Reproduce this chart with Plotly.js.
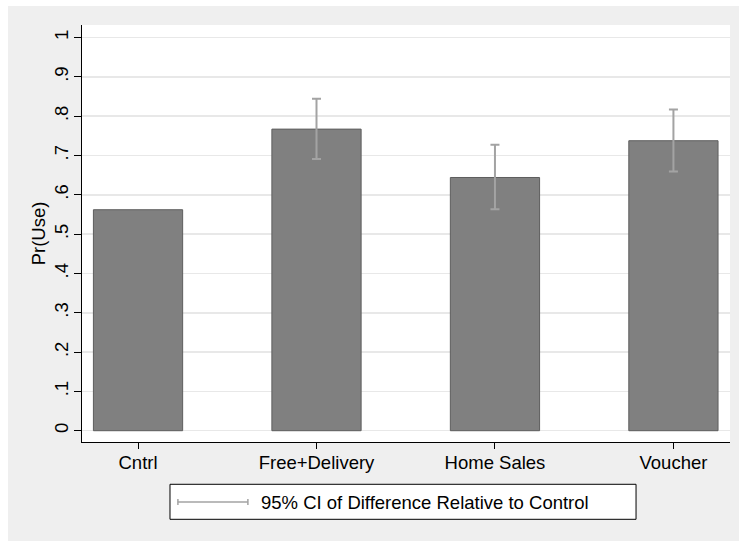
<!DOCTYPE html>
<html>
<head>
<meta charset="utf-8">
<script src="https://cdn.plot.ly/plotly-3.0.1.min.js"></script>
<style>html,body{margin:0;padding:0;background:#fff;}#chart{width:739px;height:541px;}</style>
</head>
<body>
<div id="chart"></div>
<script>
const categories = ['Cntrl', 'Free+Delivery', 'Home Sales', 'Voucher'];
const meanUse = [0.562, 0.767, 0.644, 0.7375];
const ciLow = [null, 0.691, 0.563, 0.659];
const ciHigh = [null, 0.844, 0.727, 0.817];
const yTickVals = [0, 0.1, 0.2, 0.3, 0.4, 0.5, 0.6, 0.7, 0.8, 0.9, 1];
const yTickText = ['0', '.1', '.2', '.3', '.4', '.5', '.6', '.7', '.8', '.9', '1'];
const legendLabel = '95% CI of Difference Relative to Control';

const ciCats = [], ciMid = [], ciPlus = [], ciMinus = [];
categories.forEach((c, i) => {
  if (ciLow[i] !== null && ciHigh[i] !== null) {
    ciCats.push(c);
    ciMid.push(meanUse[i]);
    ciPlus.push(ciHigh[i] - meanUse[i]);
    ciMinus.push(meanUse[i] - ciLow[i]);
  }
});

const FONT = 'Liberation Sans, Arial, Helvetica, sans-serif';
const FS = 18.5;

const traces = [
  {
    type: 'bar',
    x: categories,
    y: meanUse,
    width: 0.5,
    marker: {color: '#808080', line: {color: '#5e5e5e', width: 1}},
    showlegend: false,
    hoverinfo: 'x+y'
  },
  {
    type: 'scatter',
    mode: 'markers',
    x: ciCats,
    y: ciMid,
    marker: {size: 1, color: 'rgba(0,0,0,0)'},
    error_y: {type: 'data', symmetric: false, array: ciPlus, arrayminus: ciMinus,
              color: '#a3a3a3', thickness: 2, width: 4.5},
    showlegend: false,
    name: legendLabel
  }
];

const layout = {
  width: 739, height: 541,
  margin: {l: 82, r: 9, t: 25, b: 99},
  paper_bgcolor: '#ffffff',
  plot_bgcolor: '#ffffff',
  font: {family: FONT, size: FS, color: '#000'},
  showlegend: false,
  xaxis: {
    type: 'category',
    range: [-0.314, 3.317],
    showline: true, linecolor: '#000', linewidth: 1,
    ticks: 'outside', ticklen: 6, tickcolor: '#000', tickwidth: 1,
    showgrid: false, zeroline: false,
    ticklabelstandoff: -2,
    tickfont: {family: FONT, size: FS, color: '#000'}
  },
  yaxis: {
    range: [-0.0287, 1.0318],
    tickvals: yTickVals, ticktext: yTickText,
    tickangle: -90,
    showline: true, linecolor: '#000', linewidth: 1,
    ticks: 'outside', ticklen: 7, tickcolor: '#000', tickwidth: 1,
    showgrid: true, gridcolor: '#e8e8e8', gridwidth: 1.5,
    zeroline: false,
    ticklabelstandoff: -1,
    tickfont: {family: FONT, size: FS, color: '#000'},
    title: {text: 'Pr(Use)', font: {family: FONT, size: FS, color: '#000'}, standoff: 0}
  },
  shapes: [
    {type: 'rect', xref: 'paper', yref: 'paper', x0: -0.1142, x1: 1.02, y0: -0.25, y1: 1.0456,
     fillcolor: '#efefef', line: {width: 0}, layer: 'below'},
    {type: 'rect', xref: 'paper', yref: 'paper', x0: 0, x1: 1, y0: 0, y1: 1,
     fillcolor: '#ffffff', line: {width: 0}, layer: 'below'},
    {type: 'rect', xref: 'paper', yref: 'paper', x0: 0.1358, x1: 0.855, y0: -0.1854, y1: -0.1014,
     fillcolor: '#ffffff', line: {color: '#000', width: 1}},
    {type: 'line', xref: 'paper', yref: 'paper', x0: 0.148, x1: 0.256, y0: -0.1439, y1: -0.1439,
     line: {color: '#a3a3a3', width: 1.5}},
    {type: 'line', xref: 'paper', yref: 'paper', x0: 0.148, x1: 0.148, y0: -0.1511, y1: -0.1367,
     line: {color: '#a3a3a3', width: 1.5}},
    {type: 'line', xref: 'paper', yref: 'paper', x0: 0.256, x1: 0.256, y0: -0.1511, y1: -0.1367,
     line: {color: '#a3a3a3', width: 1.5}}
  ],
  annotations: [
    {xref: 'paper', yref: 'paper', x: 0.273, y: -0.1439, xanchor: 'left', yanchor: 'middle',
     text: legendLabel, showarrow: false, font: {family: FONT, size: FS, color: '#000'}}
  ]
};

Plotly.newPlot('chart', traces, layout, {displayModeBar: false, staticPlot: true});
</script>
</body>
</html>
